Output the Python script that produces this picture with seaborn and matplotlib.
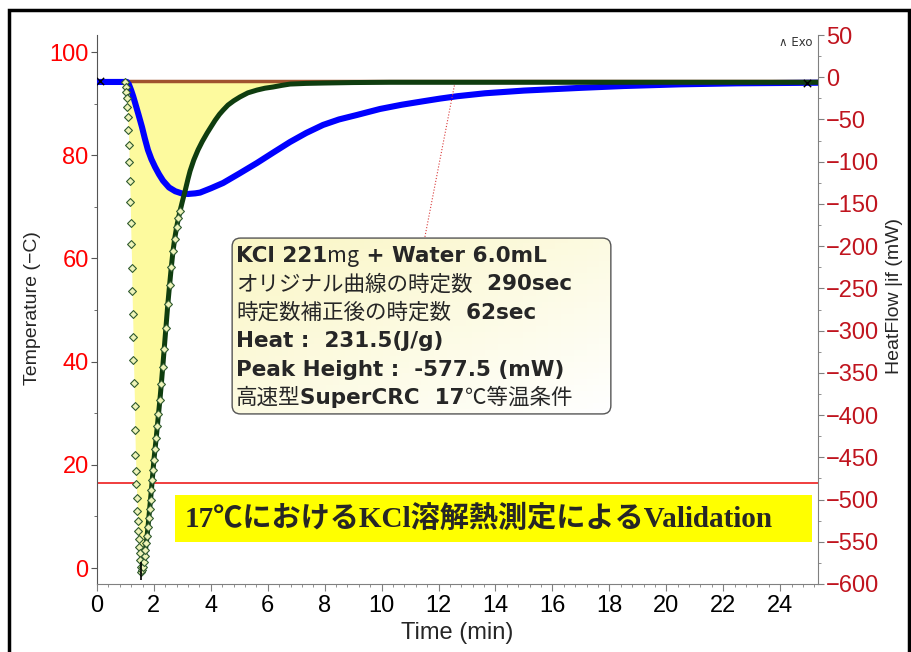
import numpy as np
import pandas as pd
import seaborn as sns
import matplotlib.pyplot as plt
from matplotlib.patches import FancyBboxPatch, Rectangle
from matplotlib.colors import LinearSegmentedColormap
from matplotlib.ticker import MultipleLocator

# original heat flow curve (time constant 290 s), time in min, heat flow in mW
blue_time = [0.0, 1.05, 1.12, 1.20, 1.27, 1.34, 1.46, 1.58, 1.68, 1.79, 1.91, 2.04, 2.18, 2.32,
             2.53, 2.75, 3.00, 3.20, 3.45, 3.62, 4.00, 4.43, 5.00, 5.62, 6.20, 6.78, 7.35, 7.94,
             8.50, 9.13, 9.94, 10.70, 11.45, 12.05, 12.65, 13.63, 15.00, 16.97, 18.50, 20.48,
             22.50, 25.33]
blue_hf = [-5.6, -5.6, -8.5, -15.5, -22.5, -30.5, -44.5, -58.9, -72.5, -86.1, -97.0, -106.3,
           -115.0, -122.5, -130.5, -135.0, -137.8, -138.2, -137.5, -136.6, -131.5, -125.2,
           -114.0, -101.5, -89.0, -76.7, -66.0, -56.5, -50.0, -44.7, -37.6, -32.6, -28.5,
           -25.3, -22.5, -19.0, -15.8, -12.6, -10.4, -8.4, -7.2, -6.5]

# corrected curve (time constant 62 s), falling side sampled every second
desc_time = [1.00, 1.02, 1.03, 1.05, 1.07, 1.08, 1.10, 1.12, 1.13, 1.15, 1.17, 1.18, 1.20, 1.22,
             1.23, 1.25, 1.27, 1.28, 1.30, 1.32, 1.33, 1.35, 1.37, 1.38, 1.40, 1.42, 1.43, 1.45,
             1.47, 1.48, 1.50, 1.52, 1.53, 1.55]
desc_hf = [-5.6, -11.6, -17.5, -24.6, -35.2, -47.1, -62.5, -80.3, -100.4, -122.9, -147.8, -172.6,
           -197.5, -225.9, -253.1, -280.4, -307.6, -334.8, -362.0, -389.3, -417.7, -447.3, -466.3,
           -481.6, -498.2, -513.6, -525.5, -537.3, -546.8, -556.2, -563.3, -571.6, -579.9, -585.8]

# corrected curve, rising side
asc_time = [1.55, 1.58, 1.61, 1.64, 1.67, 1.70, 1.73, 1.76, 1.79, 1.82, 1.85, 1.88, 1.91, 1.94,
            1.97, 2.00, 2.04, 2.08, 2.12, 2.16, 2.21, 2.26, 2.31, 2.36, 2.42, 2.49, 2.55, 2.61,
            2.67, 2.73, 2.80, 2.86, 2.92, 3.00, 3.10, 3.20, 3.27, 3.40, 3.55, 3.70, 3.87, 4.00,
            4.15, 4.30, 4.43, 4.60, 4.80, 5.02, 5.30, 5.62, 5.90, 6.18, 6.50, 6.78, 7.35, 7.94,
            9.00, 10.29, 25.33]
asc_hf = [-585.8, -584.0, -580.0, -574.0, -567.0, -560.0, -552.0, -543.0, -533.0, -522.0, -511.0,
          -500.0, -489.0, -477.0, -465.0, -453.0, -440.0, -427.0, -413.0, -399.0, -382.0, -363.0,
          -343.0, -322.0, -297.0, -268.0, -246.0, -225.0, -206.0, -191.0, -177.0, -167.0, -158.0,
          -147.0, -134.0, -120.0, -111.0, -98.0, -86.0, -76.0, -66.0, -59.0, -51.0, -44.0, -39.0,
          -33.0, -28.0, -23.4, -18.5, -15.2, -13.0, -11.6, -9.6, -8.1, -7.3, -6.9, -6.3, -6.0,
          -6.0]

temp_time = [0.0, 25.33]
temp_c = [16.5, 16.5]
baseline_time = [1.0, 25.33]
baseline_hf = [-4.8, -4.8]
limit_time = [0.1, 24.95]
limit_hf = [-4.0, -6.5]
leader_time = [11.52, 12.58]
leader_hf = [-189.0, -5.6]

x_ticks = list(range(0, 25, 2))
left_ticks = [0, 20, 40, 60, 80, 100]
right_ticks = list(range(-600, 51, 50))

box_lines = [
    [("KCl 221", "bold", "lat"), ("mg", "normal", "jp"), (" + Water 6.0mL", "bold", "lat")],
    [("オリジナル曲線の時定数", "normal", "jp"), ("  290sec", "bold", "lat")],
    [("時定数補正後の時定数", "normal", "jp"), ("  62sec", "bold", "lat")],
    [("Heat :  231.5(J/g)", "bold", "lat")],
    [("Peak Height :  -577.5 (mW)", "bold", "lat")],
    [("高速型", "normal", "jp"), ("SuperCRC  17", "bold", "lat"), ("℃等温条件", "normal", "jp")],
]
banner_text = "17℃におけるKCl溶解熱測定によるValidation"

W, H = 912, 652
sns.set_style("white")
plt.rcParams["font.family"] = ["Liberation Sans", "DejaVu Sans", "Noto Sans CJK JP"]
fams = {"lat": ["DejaVu Sans", "Noto Sans CJK JP"], "jp": ["Noto Sans CJK JP", "DejaVu Sans"]}

fig = plt.figure(figsize=(W / 100, H / 100), dpi=100)
ax = fig.add_axes([97 / W, 1 - 584 / H, (818 - 97) / W, (584 - 35) / H])
ax2 = ax.twinx()

blue = pd.DataFrame({"t": blue_time, "hf": blue_hf})
desc = pd.DataFrame({"t": desc_time, "hf": desc_hf})
asc = pd.DataFrame({"t": asc_time, "hf": asc_hf})
green = pd.concat([desc, asc.iloc[1:]], ignore_index=True)

# temperature on the left axis
sns.lineplot(x=temp_time, y=temp_c, ax=ax, color="#ee1c1c", linewidth=1.2)

# heat flow on the right axis
ax2.fill_between(green["t"], green["hf"], baseline_hf[0], color="#fdfa9e", linewidth=0, zorder=1)
sns.lineplot(x=baseline_time, y=baseline_hf, ax=ax2, color="#a0522d", linewidth=2.5, zorder=2)
sns.lineplot(data=blue, x="t", y="hf", ax=ax2, color="#0000ff", linewidth=4.4, estimator=None, zorder=3)
sns.lineplot(data=asc, x="t", y="hf", ax=ax2, color="#0f3d0f", linewidth=3.6, estimator=None, zorder=4)
sns.scatterplot(data=green[green["t"] < 3.0], x="t", y="hf", ax=ax2, marker="D", s=16,
                facecolor="#eef3b8", edgecolor="#2f5a2f", linewidth=0.8, zorder=5)
sns.lineplot(x=leader_time, y=leader_hf, ax=ax2, color="#d83a3a", linewidth=0.8,
             linestyle=":", zorder=3)
ax2.scatter(limit_time, limit_hf, marker="x", color="black", s=28, linewidths=1, zorder=6)
peak = green.loc[green["hf"].idxmin()]
ax2.vlines(peak["t"], peak["hf"] + 12, peak["hf"] - 9, color="black", linewidth=1.2, zorder=6)

ax.set_xlim(0, 25.33)
ax.set_ylim(-3.1, 103.3)
ax2.set_ylim(-600, 50)
ax.set_xticks(x_ticks)
ax.set_yticks(left_ticks)
ax2.set_yticks(right_ticks)
ax.xaxis.set_minor_locator(MultipleLocator(0.4))
ax.yaxis.set_minor_locator(MultipleLocator(10))
ax2.yaxis.set_minor_locator(MultipleLocator(25))
ax.set_xlabel("")
ax.set_ylabel("")
ax2.set_ylabel("")

for a in (ax, ax2):
    for side in a.spines:
        a.spines[side].set_visible(False)
ax.spines["left"].set_visible(True)
ax.spines["bottom"].set_visible(True)
ax2.spines["right"].set_visible(True)
ax.spines["left"].set_color("#555555")
ax.spines["bottom"].set_color("#808080")
ax2.spines["right"].set_color("#808080")

ax.tick_params(axis="x", which="both", bottom=True, direction="out", colors="#808080",
               labelcolor="black", labelsize=17, pad=3)
ax.tick_params(axis="x", which="major", length=5)
ax.tick_params(axis="x", which="minor", length=2.5)
ax.tick_params(axis="y", which="both", left=True, direction="out", colors="#555555",
               labelcolor="#ff0000", labelsize=17, pad=2)
ax.tick_params(axis="y", which="major", length=4)
ax.tick_params(axis="y", which="minor", length=2.5)
ax2.tick_params(axis="y", which="both", right=True, direction="out", colors="#808080",
                labelcolor="#c0141e", labelsize=17, pad=2)
ax2.tick_params(axis="y", which="major", length=4)
ax2.tick_params(axis="y", which="minor", length=2.5)

fig.text(33 / W, 1 - 308 / H, "Temperature (\u2212C)", rotation=90, ha="center", va="center", fontsize=14)
fig.text(895 / W, 1 - 296 / H, "HeatFlow |if (mW)", rotation=90, ha="center", va="center", fontsize=14)
fig.text(457 / W, 1 - 633 / H, "Time (min)", ha="center", va="center", fontsize=17)
fig.text(796 / W, 1 - 42 / H, "\u2227 Exo", ha="center", va="center", fontsize=8.5,
         color="#333333", family="DejaVu Sans")

# result box with a soft yellow gradient
bx0, by0, bx1, by1 = 231, 237, 612, 415
box_ax = fig.add_axes([bx0 / W, 1 - by1 / H, (bx1 - bx0) / W, (by1 - by0) / H])
box_ax.axis("off")
gx, gy = np.meshgrid(np.linspace(0, 1, 60), np.linspace(0, 1, 30))
grad = (gx + gy) / 2
cmap = LinearSegmentedColormap.from_list("box", ["#faf6c4", "#ffffff"])
im = box_ax.imshow(grad, extent=[0, 1, 0, 1], cmap=cmap, aspect="auto", origin="upper")
frame = FancyBboxPatch((0.003, 0.006), 0.994, 0.988, boxstyle="round,pad=0,rounding_size=0.022",
                       mutation_aspect=(bx1 - bx0) / (by1 - by0), transform=box_ax.transAxes,
                       facecolor="none", edgecolor="#555555", linewidth=1)
box_ax.add_patch(frame)
im.set_clip_path(frame)

renderer = fig.canvas.get_renderer()
for i, parts in enumerate(box_lines):
    x_px = 236
    y_px = 262 + i * 28.4
    for s, weight, f in parts:
        t = fig.text(x_px / W, 1 - y_px / H, s, fontsize=15.5, fontweight=weight, family=fams[f],
                     va="baseline", ha="left")
        x_px = t.get_window_extent(renderer).x1

# yellow banner
fig.add_artist(Rectangle((175 / W, 1 - 542 / H), (812 - 175) / W, (542 - 495) / H,
                         transform=fig.transFigure, facecolor="#ffff00", edgecolor="none"))
fig.text(185 / W, 1 - 519 / H, banner_text, ha="left", va="center", fontsize=21, fontweight="bold",
         family=["Liberation Serif", "Noto Sans CJK JP"])

# outer frame
fig.add_artist(Rectangle((9 / W, -0.05), 900 / W, 1.05 - 10 / H, transform=fig.transFigure,
                         fill=False, edgecolor="black", linewidth=2.5))

fig.savefig("out.png", dpi=100)
